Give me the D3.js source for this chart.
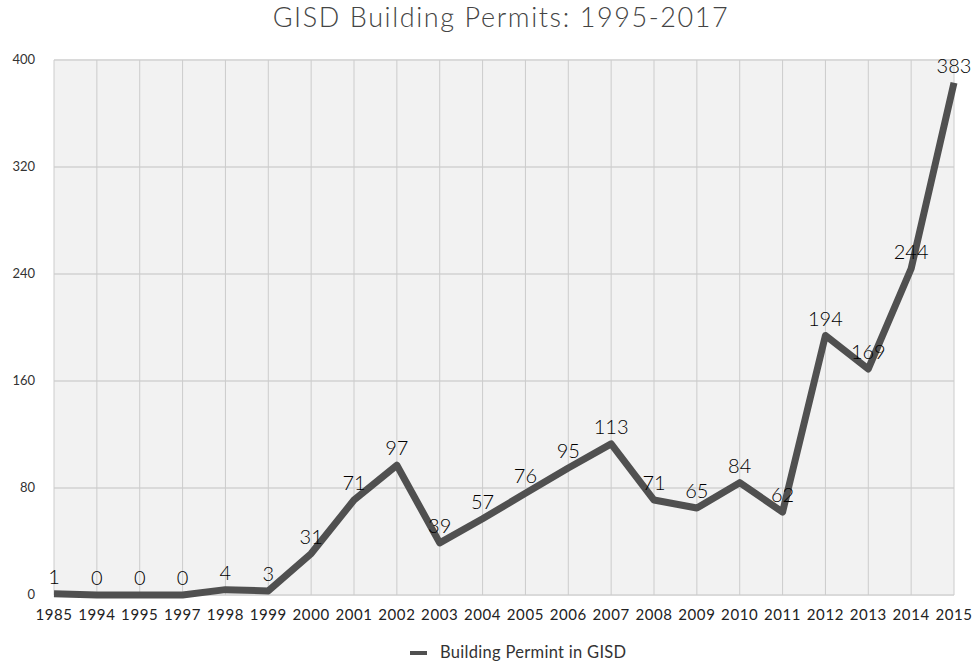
<!DOCTYPE html>
<html>
<head>
<meta charset="utf-8">
<script src="https://cdn.jsdelivr.net/npm/d3@7"></script>
<style>
  body { margin: 0; background: #fff; }
  svg text { font-family: Lato, "Open Sans", sans-serif; font-weight: 400; fill: #222; }
  svg text.value { font-weight: 300; }
  svg text.title { font-weight: 300; }
</style>
</head>
<body>
<div id="chart"></div>
<script>
"use strict"

var years = ['1985', '1994', '1995', '1997', '1998', '1999', '2000', '2001', '2002', '2003', '2004',
  '2005', '2006', '2007', '2008', '2009', '2010', '2011', '2012', '2013', '2014', '2015'];
var permits = [1, 0, 0, 0, 4, 3, 31, 71, 97, 39, 57, 76, 95, 113, 71, 65, 84, 62, 194, 169, 244, 383];
var yTicks = [0, 80, 160, 240, 320, 400];

var width = 980,
  height = 663,
  plotLeft = 54,
  plotRight = 954,
  plotTop = 60,
  plotBottom = 595;

var svg = d3.select('#chart').append('svg')
  .attr('width', width)
  .attr('height', height);

var x = d3.scalePoint()
  .domain(years)
  .range([plotLeft, plotRight]);

var y = d3.scaleLinear()
  .domain([0, 400])
  .range([plotBottom, plotTop]);

// plot background
svg.append('rect')
  .attr('x', plotLeft)
  .attr('y', plotTop)
  .attr('width', plotRight - plotLeft)
  .attr('height', plotBottom - plotTop)
  .attr('fill', '#f2f2f2');

// horizontal grid
svg.append('g').selectAll('line')
  .data(yTicks)
  .enter().append('line')
  .attr('x1', plotLeft).attr('x2', plotRight)
  .attr('y1', d => y(d)).attr('y2', d => y(d))
  .attr('stroke', '#dadada')
  .attr('stroke-width', 2);

// vertical grid
svg.append('g').selectAll('line')
  .data(years)
  .enter().append('line')
  .attr('x1', d => x(d)).attr('x2', d => x(d))
  .attr('y1', plotTop).attr('y2', plotBottom)
  .attr('stroke', '#cccccc')
  .attr('stroke-width', 1);

// y labels
svg.append('g').selectAll('text')
  .data(yTicks)
  .enter().append('text')
  .attr('x', 35)
  .attr('y', d => y(d) + 4)
  .attr('text-anchor', 'end')
  .attr('font-size', 13)
  .style('fill', '#333')
  .text(d => d);

// x labels
svg.append('g').selectAll('text')
  .data(years)
  .enter().append('text')
  .attr('x', d => x(d))
  .attr('y', 620)
  .attr('text-anchor', 'middle')
  .attr('font-size', 15)
  .attr('letter-spacing', 0.6)
  .text(d => d);

var line = d3.line()
  .x((d, i) => x(years[i]))
  .y(d => y(d));

svg.append('path')
  .datum(permits)
  .attr('d', line)
  .attr('fill', 'none')
  .attr('stroke', '#505050')
  .attr('stroke-width', 7)
  .attr('stroke-linejoin', 'round');

// value labels
svg.append('g').selectAll('text')
  .data(permits)
  .enter().append('text')
  .attr('class', 'value')
  .attr('x', (d, i) => x(years[i]))
  .attr('y', d => y(d) - 10)
  .attr('text-anchor', 'middle')
  .attr('font-size', 20)
  .style('fill', '#000')
  .text(d => d);

// title
svg.append('text')
  .attr('class', 'title')
  .attr('x', 501)
  .attr('y', 27)
  .attr('text-anchor', 'middle')
  .attr('font-size', 27)
  .attr('letter-spacing', 1.6)
  .style('fill', '#444')
  .text('GISD Building Permits: 1995-2017');

// legend
svg.append('line')
  .attr('x1', 410).attr('x2', 427)
  .attr('y1', 653).attr('y2', 653)
  .attr('stroke', '#505050')
  .attr('stroke-width', 4);

svg.append('text')
  .attr('x', 440)
  .attr('y', 658)
  .attr('font-size', 16.5)
  .attr('letter-spacing', 0.3)
  .style('fill', '#333')
  .text('Building Permint in GISD');
</script>
</body>
</html>
